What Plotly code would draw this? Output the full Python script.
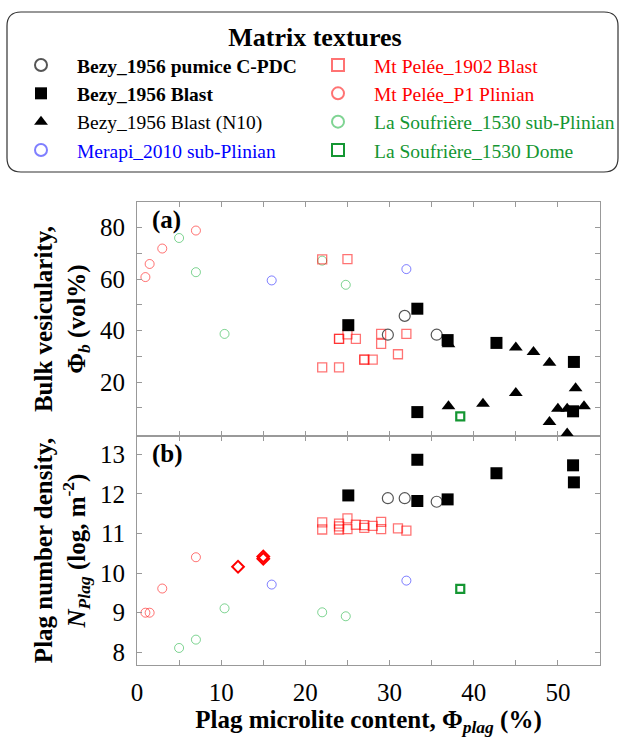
import plotly.graph_objects as go

# ---------------- data ----------------
# Bezy_1956 pumice C-PDC
bp_x_a = [29.8, 31.8, 35.6]
bp_y_a = [38.4, 45.7, 38.4]
bp_x_b = [29.8, 31.8, 35.6]
bp_y_b = [11.89, 11.89, 11.80]

# Bezy_1956 Blast
bb_x_a = [25.1, 33.3, 36.9, 42.7, 51.9, 33.3, 51.8]
bb_y_a = [42.1, 48.5, 36.3, 35.2, 27.8, 8.3, 8.6]
bb_x_b = [25.1, 33.3, 36.9, 42.7, 51.8, 51.9, 33.3]
bb_y_b = [11.96, 12.86, 11.86, 12.52, 12.72, 12.29, 11.82]

# Bezy_1956 Blast (N10)
bn_x_a = [37.0, 45.0, 47.1, 49.0, 45.0, 52.1, 37.0, 41.1, 50.0, 51.1, 53.1, 49.0, 51.1]
bn_y_a = [34.7, 33.4, 31.7, 27.5, 15.7, 17.6, 10.6, 11.5, 9.6, 9.6, 10.6, 4.4, 0.0]

# Merapi_2010 sub-Plinian
me_x_a = [16.0, 32.0]
me_y_a = [59.5, 63.9]
me_x_b = [16.0, 32.0]
me_y_b = [9.71, 9.81]

# Mt Pelée_1902 Blast
pb_x_a = [22.0, 25.0, 22.0, 24.0, 24.0, 24.0, 25.0, 26.0, 27.0, 27.0, 28.0, 29.0, 29.0, 31.0, 32.0]
pb_y_a = [67.7, 67.8, 25.7, 25.7, 36.8, 36.8, 38.5, 36.8, 28.7, 28.7, 28.7, 38.7, 34.8, 30.8, 38.7]
pb_x_b = [22.0, 22.0, 24.0, 24.0, 24.0, 25.0, 25.0, 26.0, 27.0, 27.0, 28.0, 29.0, 29.0, 31.0, 32.0]
pb_y_b = [11.28, 11.10, 11.25, 11.10, 11.18, 11.38, 11.11, 11.22, 11.21, 11.14, 11.19, 11.29, 11.11, 11.13, 11.07]

# Mt Pelée_P1 Plinian
pp_x_a = [1.0, 1.5, 3.0, 7.0]
pp_y_a = [60.8, 65.9, 71.9, 78.9]
pp_x_b = [1.0, 1.5, 3.0, 7.0]
pp_y_b = [9.0, 9.0, 9.61, 10.4]

# La Soufrière_1530 sub-Plinian
ss_x_a = [5.0, 7.0, 10.4, 22.0, 24.8]
ss_y_a = [76.0, 62.7, 38.7, 67.2, 57.8]
ss_x_b = [5.0, 7.0, 10.4, 22.0, 24.8]
ss_y_b = [8.11, 8.32, 9.11, 9.01, 8.91]

# La Soufrière_1530 Dome
sd_x_a = [38.4]
sd_y_a = [6.6]
sd_x_b = [38.4]
sd_y_b = [9.6]

# Unlabelled red diamonds (panel b only)
dm_x_b = [12.0, 15.0, 15.0]
dm_y_b = [10.16, 10.42, 10.36]

# ticks
x_tickvals = [0, 5, 10, 15, 20, 25, 30, 35, 40, 45, 50, 55]
x_ticktext = ["0", "", "10", "", "20", "", "30", "", "40", "", "50", ""]
ya_tickvals = [10, 20, 30, 40, 50, 60, 70, 80]
ya_ticktext = ["", "20", "", "40", "", "60", "", "80"]
yb_tickvals = [8, 9, 10, 11, 12, 13]
yb_ticktext = ["8", "9", "10", "11", "12", "13"]

FONT = "Liberation Serif"
RED_L = "rgba(255,0,0,0.55)"
GREEN_L = "rgba(0,170,40,0.5)"
BLUE_L = "rgba(0,0,255,0.5)"
GREEN_D = "rgb(20,150,50)"

fig = go.Figure()

def add_series(name, xa, ya, xb, yb, marker, rank, showleg=True, clip=True):
    if xa is not None:
        fig.add_trace(go.Scatter(x=xa, y=ya, xaxis="x2", yaxis="y2", mode="markers",
                                 name=name, legendrank=rank,
                                 showlegend=showleg, marker=marker, cliponaxis=clip))
        showleg = False
    if xb is not None:
        fig.add_trace(go.Scatter(x=xb, y=yb, xaxis="x", yaxis="y", mode="markers",
                                 name=name, legendrank=rank,
                                 showlegend=showleg, marker=marker, cliponaxis=clip))

add_series("<span style='color:rgb(20,150,50)'>La Soufrière_1530 sub-Plinian</span>",
           ss_x_a, ss_y_a, ss_x_b, ss_y_b,
           dict(symbol="circle-open", size=9, color=GREEN_L, line=dict(width=1)), 6)
add_series("<span style='color:red'>Mt Pelée_P1 Plinian</span>",
           pp_x_a, pp_y_a, pp_x_b, pp_y_b,
           dict(symbol="circle-open", size=9, color=RED_L, line=dict(width=1)), 4)
add_series("<span style='color:blue'>Merapi_2010 sub-Plinian</span>",
           me_x_a, me_y_a, me_x_b, me_y_b,
           dict(symbol="circle-open", size=9, color=BLUE_L, line=dict(width=1)), 7)
add_series("<span style='color:red'>Mt Pelée_1902 Blast</span>",
           pb_x_a, pb_y_a, pb_x_b, pb_y_b,
           dict(symbol="square-open", size=9, color=RED_L, line=dict(width=1.3)), 2)
add_series("<b>Bezy_1956 pumice C-PDC</b>",
           bp_x_a, bp_y_a, bp_x_b, bp_y_b,
           dict(symbol="circle-open", size=11, color="#555555", line=dict(width=1.2)), 1)
add_series("Bezy_1956 Blast (N10)",
           bn_x_a, bn_y_a, None, None,
           dict(symbol="triangle-up", size=12, color="black"), 5, clip=False)
add_series("<b>Bezy_1956 Blast</b>",
           bb_x_a, bb_y_a, bb_x_b, bb_y_b,
           dict(symbol="square", size=12, color="black"), 3)
add_series("<span style='color:rgb(20,150,50)'>La Soufrière_1530 Dome</span>",
           sd_x_a, sd_y_a, sd_x_b, sd_y_b,
           dict(symbol="square", size=8, color="white", line=dict(width=2.2, color=GREEN_D)), 8)
add_series("Mt Pelée diamonds", None, None, dm_x_b, dm_y_b,
           dict(symbol="diamond-open", size=9, color="red", line=dict(width=2)), 9, showleg=False)

axis_common = dict(showline=True, linecolor="#999999", linewidth=1, mirror="ticks",
                   ticks="inside", ticklen=5, tickcolor="#999999", showgrid=False,
                   zeroline=False, tickfont=dict(family=FONT, size=25, color="black"))

dom_split = 229 / 463
pad = "\u00a0" * 34
legend_title = pad + "<b>Matrix textures</b>" + pad

fig.update_layout(
    width=621, height=739,
    margin=dict(l=137, r=21, t=202, b=74, autoexpand=False),
    paper_bgcolor="white", plot_bgcolor="white",
    font=dict(family=FONT, color="black"),
    xaxis=dict(axis_common, domain=[0, 1], range=[0, 55], anchor="y",
               tickvals=x_tickvals, ticktext=x_ticktext, automargin=False,
               ticklabelstandoff=5,
               title=dict(text="<b>Plag microlite content, Φ<sub><i>plag</i></sub> (%)</b>",
                          font=dict(family=FONT, size=25, color="black"), standoff=0)),
    xaxis2=dict(axis_common, domain=[0, 1], range=[0, 55], anchor="y2", matches="x",
                tickvals=x_tickvals, ticktext=["" for _ in x_tickvals], automargin=False),
    yaxis=dict(axis_common, domain=[0, dom_split], range=[7.68, 13.46], anchor="x",
               tickvals=yb_tickvals, ticktext=yb_ticktext, ticklabelstandoff=6, automargin=False,
               title=dict(text="<b>Plag number density,</b><br><b><i>N<sub>Plag</sub></i> (log, m<sup>-2</sup>)</b>",
                          font=dict(family=FONT, size=25, color="black"), standoff=7)),
    yaxis2=dict(axis_common, domain=[dom_split, 1], range=[-1, 90], anchor="x2",
                tickvals=ya_tickvals, ticktext=ya_ticktext, ticklabelstandoff=6, automargin=False,
                title=dict(text="<b>Bulk vesicularity,</b><br><b>Φ<sub><i>b</i></sub> (vol%)</b>",
                           font=dict(family=FONT, size=25, color="black"), standoff=7)),
    showlegend=True,
    legend=dict(orientation="h", x=(5 - 137) / 463, xanchor="left",
                y=(665 - 12) / 463, yanchor="top", traceorder="normal",
                itemwidth=62, entrywidth=220, entrywidthmode="pixels",
                bgcolor="rgba(0,0,0,0)", borderwidth=0,
                font=dict(family=FONT, size=19.5, color="black"),
                itemsizing="constant",
                title=dict(text=legend_title, side="top center",
                           font=dict(family=FONT, size=26, color="black"))),
)

# rounded legend frame
x0, x1 = (7 - 137) / 463, (618 - 137) / 463
yt, yb = (665 - 12) / 463, (665 - 172) / 463
r = 14 / 463
path = (f"M {x0+r},{yt} L {x1-r},{yt} Q {x1},{yt} {x1},{yt-r} L {x1},{yb+r} "
        f"Q {x1},{yb} {x1-r},{yb} L {x0+r},{yb} Q {x0},{yb} {x0},{yb+r} "
        f"L {x0},{yt-r} Q {x0},{yt} {x0+r},{yt} Z")
fig.add_shape(type="path", path=path, xref="paper", yref="paper",
              line=dict(color="#333333", width=1.2), fillcolor="rgba(0,0,0,0)", layer="above")

fig.add_annotation(text="<b>(a)</b>", xref="x2 domain", yref="y2 domain", x=0.028, y=0.99,
                   xanchor="left", yanchor="top", showarrow=False,
                   font=dict(family=FONT, size=25, color="black"))
fig.add_annotation(text="<b>(b)</b>", xref="x domain", yref="y domain", x=0.028, y=0.99,
                   xanchor="left", yanchor="top", showarrow=False,
                   font=dict(family=FONT, size=25, color="black"))

fig.write_html("out.html", config={"displayModeBar": False},
               post_script="document.body.style.margin='0';document.body.style.overflow='hidden';")
